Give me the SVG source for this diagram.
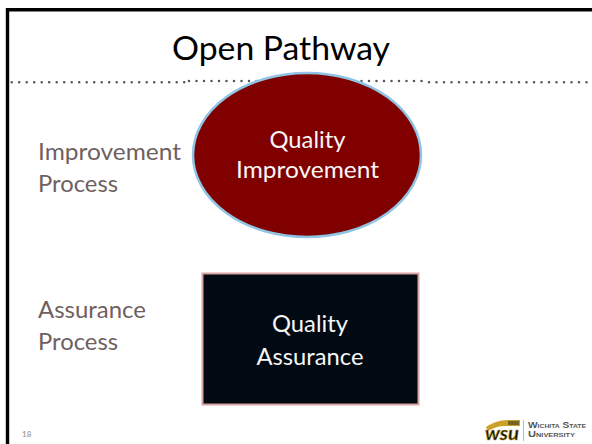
<svg xmlns="http://www.w3.org/2000/svg" width="592" height="444" viewBox="0 0 592 444">
<style>
text{font-family:"Lato","Open Sans","Liberation Sans",sans-serif}
.w{fill:#f6f6f6;font-size:23px;text-anchor:middle}
.g{fill:#705f5f;font-size:23px}
.logo{font-family:"Liberation Sans",sans-serif;font-size:9px;fill:#555;font-variant:small-caps;font-weight:bold}
</style>
<rect width="592" height="444" fill="#fff"/>
<path d="M7.500 444V9.800H592" fill="none" stroke="#000" stroke-width="3.400"/>
<text id="title" x="281" y="60" font-size="33" fill="#000" text-anchor="middle" textLength="218" lengthAdjust="spacingAndGlyphs">Open Pathway</text>
<g id="rule" fill="none" stroke="#555" stroke-width="2.500" stroke-linecap="round" stroke-dasharray="0 7.500">
<path d="M11.700 82.300H186"/><path d="M189 81H428"/><path d="M429 82.300H592"/>
</g>
<g id="connectors"></g>
<g id="quality-improvement">
<ellipse cx="307" cy="155" rx="114" ry="82" fill="#800000" stroke="#8fc4e4" stroke-width="2.500"/>
<text class="w" x="307.500" y="147.500" textLength="76" lengthAdjust="spacingAndGlyphs">Quality</text>
<text class="w" x="307.500" y="178" textLength="143" lengthAdjust="spacingAndGlyphs">Improvement</text>
</g>
<g id="quality-assurance">
<rect x="202.500" y="273.500" width="216" height="131" fill="#010a12" stroke="#d9a3a3" stroke-width="2"/>
<text class="w" x="310" y="332" textLength="76" lengthAdjust="spacingAndGlyphs">Quality</text>
<text class="w" x="310" y="365" textLength="107" lengthAdjust="spacingAndGlyphs">Assurance</text>
</g>
<g id="improvement-process">
<text class="g" x="38" y="160" textLength="143" lengthAdjust="spacingAndGlyphs">Improvement</text>
<text class="g" x="38" y="192" textLength="80" lengthAdjust="spacingAndGlyphs">Process</text>
</g>
<g id="assurance-process">
<text class="g" x="38" y="318" textLength="108" lengthAdjust="spacingAndGlyphs">Assurance</text>
<text class="g" x="38" y="350" textLength="80" lengthAdjust="spacingAndGlyphs">Process</text>
</g>
<text id="page" x="22" y="437" font-size="8" fill="#8a8a8a">18</text>
<g id="logo">
<path d="M486 427C492 423 500 420 507 420H520V426H505C498 426 493 428 488 431Z" fill="#c9a227"/>
<path d="M508 422h11M508 424h11" stroke="#222" stroke-width="1"/>
<text x="502" y="440" font-family="Liberation Serif,serif" font-size="18" font-weight="bold" font-style="italic" fill="#111" stroke="#c9a227" stroke-width=".5" text-anchor="middle" textLength="34" lengthAdjust="spacingAndGlyphs">wsu</text>
<path d="M523.500 420V441" stroke="#bbb" stroke-width="1"/>
<text class="logo" x="528" y="428" textLength="58" lengthAdjust="spacingAndGlyphs">Wichita State</text>
<text class="logo" x="528" y="437" textLength="47" lengthAdjust="spacingAndGlyphs">University</text>
</g>
</svg>
